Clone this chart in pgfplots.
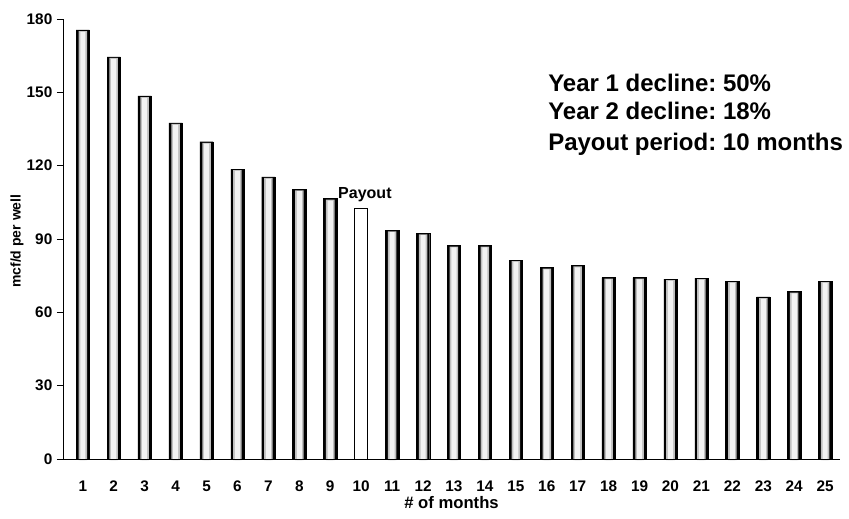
\documentclass[border=0pt]{standalone}
\usepackage{fontspec}
\setmainfont{Liberation Sans}
\usepackage{pgfplots}
\usepackage{pgfplotstable}
\pgfplotsset{compat=1.18}
\pgfplotstableread{
m v
1 175.5
2 164.5
3 148.5
4 137.5
5 129.8
6 118.6
7 115.4
8 110.3
9 106.5
11 93.6
12 92.3
13 87.3
14 87.3
15 81.4
16 78.3
17 79.2
18 74.2
19 74.2
20 73.6
21 74.0
22 72.8
23 66.3
24 68.5
25 72.8
}\bars
\pgfplotstableread{
m v
10 102.4
}\payout
\begin{document}
\frenchspacing
\begin{tikzpicture}
\path[use as bounding box] (-47.25pt,-44.25pt) rectangle (589.5pt,344.25pt);
\begin{axis}[at={(0,0)}, anchor=south west, scale only axis,
  width=582.75pt, height=330pt,
  xmin=0.36, xmax=25.48, ymin=0, ymax=180,
  axis lines*=left, axis line style={line width=0.6pt},
  ytick={0,30,...,180}, xtick={1,...,25},
  tick align=outside, major tick length=4.5pt,
  x tick style={draw=none}, y tick style={line width=0.6pt, black},
  ticklabel style={font=\bfseries\fontsize{11.5}{13}\selectfont},
  /pgf/number format/assume math mode=true,
  xticklabel style={text height=8.4pt, text depth=0pt, yshift=-8pt},
  axis on top,
  clip=false]
\addplot[ybar, bar width=10pt, bar shift=0pt, fill=black, draw=black, line width=0.3pt] table[x=m,y=v]{\bars};
\addplot[ybar, bar width=6.4pt, bar shift=0pt, fill=gray!50, draw=none, yshift=-0.8pt] table[x=m,y=v]{\bars};
\addplot[ybar, bar width=3.8pt, bar shift=0pt, fill=gray!10, draw=none, yshift=-1.4pt] table[x=m,y=v]{\bars};
\addplot[ybar, bar width=10pt, bar shift=0pt, fill=white, draw=black, line width=0.6pt] table[x=m,y=v]{\payout};
\node[anchor=base west, font=\bfseries\fontsize{12}{14}\selectfont, inner sep=0pt] at (axis cs:9.25,106.4) {Payout};
\node[anchor=base west, font=\bfseries\fontsize{18}{21}\selectfont, inner sep=0pt] at (axis cs:16.04,150.2) {Year 1 decline: 50\%};
\node[anchor=base west, font=\bfseries\fontsize{18}{21}\selectfont, inner sep=0pt] at (axis cs:16.04,138.7) {Year 2 decline: 18\%};
\node[anchor=base west, font=\bfseries\fontsize{18}{21}\selectfont, inner sep=0pt] at (axis cs:16.04,126.4) {Payout period: 10 months};
\node[font=\bfseries\fontsize{12.5}{14}\selectfont] at (rel axis cs:0.5,0) [yshift=-33pt] {\# of months};
\node[xshift=-34.5pt, rotate=90, font=\bfseries\fontsize{10.5}{12}\selectfont] at (rel axis cs:0,0.495) {mcf/d per well};
\end{axis}
\end{tikzpicture}
\end{document}
